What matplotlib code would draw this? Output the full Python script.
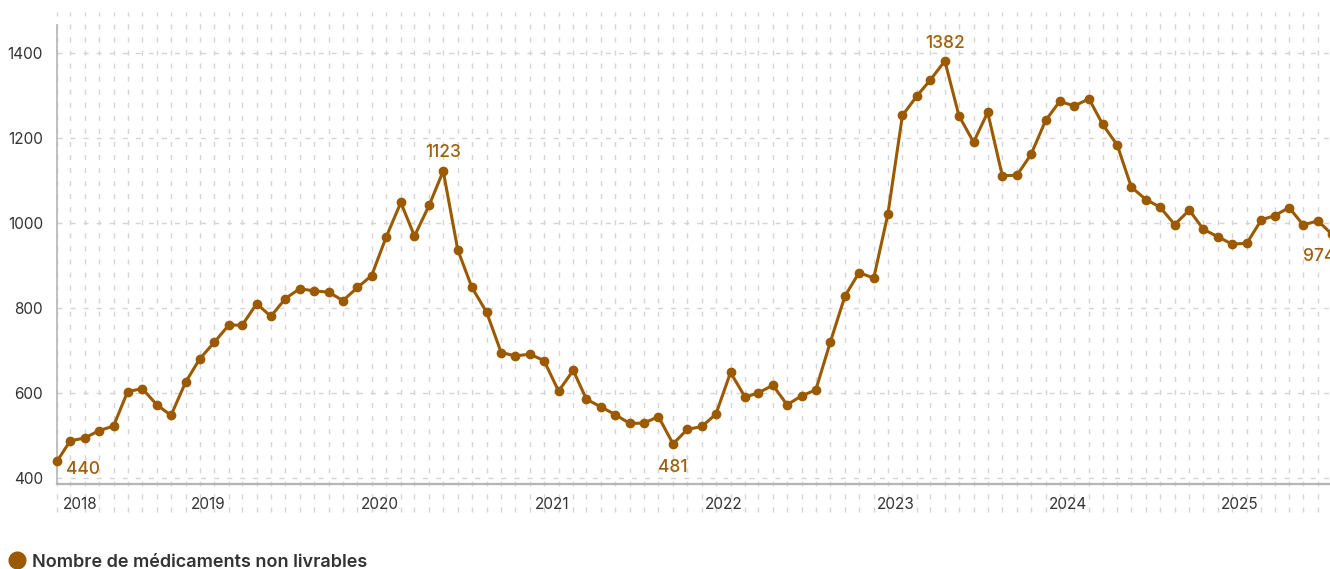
import matplotlib
matplotlib.use('Agg')
import matplotlib.pyplot as plt
from matplotlib.lines import Line2D
import pandas as pd

# monthly counts, mid-month, Feb 2018 - Jul 2025
months = pd.date_range('2018-02-01', '2025-07-01', freq='MS') + pd.Timedelta(days=14)
values = [440, 488, 495, 512, 523, 604, 611, 573, 548, 626,
          681, 720, 761, 760, 811, 781, 823, 846, 841, 838,
          818, 849, 877, 968, 1049, 970, 1042, 1123, 937, 849,
          791, 696, 688, 692, 677, 605, 654, 586, 568, 550,
          529, 530, 545, 481, 515, 522, 551, 649, 591, 601,
          619, 573, 594, 608, 721, 829, 884, 871, 1021, 1254,
          1300, 1337, 1382, 1253, 1191, 1261, 1112, 1113, 1162, 1242,
          1287, 1276, 1293, 1233, 1184, 1085, 1056, 1038, 997, 1031,
          986, 968, 951, 953, 1008, 1018, 1037, 996, 1006, 974]
yticks = [400, 600, 800, 1000, 1200, 1400]
years = [2019, 2020, 2021, 2022, 2023, 2024, 2025]
series_name = 'Nombre de médicaments non livrables'

brown = '#9b5900'
label_brown = '#a0600a'
grid_col = '#d4d4d4'
text_col = '#333333'

plt.rcParams['font.family'] = ['Inter', 'DejaVu Sans']

fig = plt.figure(figsize=(13.3, 5.69), dpi=100)
ax = fig.add_axes([57 / 1330, 85 / 569, 1275 / 1330, 459 / 569])

ax.set_xlim(months[0], months[-1])
ax.set_ylim(386.6, 1466.6)

# dashed grid, vertical one runs past the axes like the original
ax.vlines(months, -0.061, 1.028, transform=ax.get_xaxis_transform(),
          colors=grid_col, linestyles=(0, (3.6, 5.8)), linewidth=1,
          clip_on=False, zorder=0)
ax.set_yticks(yticks)
ax.grid(axis='y', color=grid_col, linestyle=(0, (3.6, 5.8)), linewidth=1)
ax.set_axisbelow(True)

ax.plot(months, values, color=brown, lw=2.2, marker='o', ms=6,
        zorder=3, clip_on=False)

for s in ['top', 'right']:
    ax.spines[s].set_visible(False)
ax.spines['left'].set_color('#b5b5b5')
ax.spines['left'].set_linewidth(1.2)
ax.spines['bottom'].set_color('#b5b5b5')
ax.spines['bottom'].set_linewidth(1.6)

ax.set_xticks([pd.Timestamp(f'{y}-01-01') for y in years])
ax.set_xticklabels([str(y) for y in years])
ax.tick_params(axis='x', length=0, pad=9.5, labelsize=11, labelcolor=text_col)
ax.tick_params(axis='y', length=0, pad=10, labelsize=11, labelcolor=text_col)
ax.annotate('2018', xy=(months[0], 0), xycoords=('data', 'axes fraction'),
            xytext=(4.5, -9.5), textcoords='offset points', ha='left',
            va='top', fontsize=11, color=text_col)

# value labels
i_max = values.index(max(values))
i_peak1 = values.index(max(values[:40]))
i_min = values.index(min(values[20:]))
labels = [
    (0, (6.5, -6), 'left', 'center'),
    (i_peak1, (0, 10), 'center', 'baseline'),
    (i_min, (0, -20), 'center', 'baseline'),
    (i_max, (0, 9.5), 'center', 'baseline'),
    (len(values) - 1, (-9, -19), 'center', 'baseline'),
]
for i, off, ha, va in labels:
    ax.annotate(str(values[i]), xy=(months[i], values[i]), xytext=off,
                textcoords='offset points', ha=ha, va=va, fontsize=12.5,
                fontweight='medium', color=label_brown, annotation_clip=False)

handle = Line2D([], [], ls='', marker='o', ms=12, color=brown)
fig.legend([handle], [series_name], loc='lower left',
           bbox_to_anchor=(6 / 1330, -0.009), frameon=False, borderpad=0.2,
           handlelength=0.8, handletextpad=0.45, borderaxespad=0,
           prop={'size': 13, 'weight': 'semibold'}, labelcolor=text_col)

fig.savefig('out.png', dpi=100)
